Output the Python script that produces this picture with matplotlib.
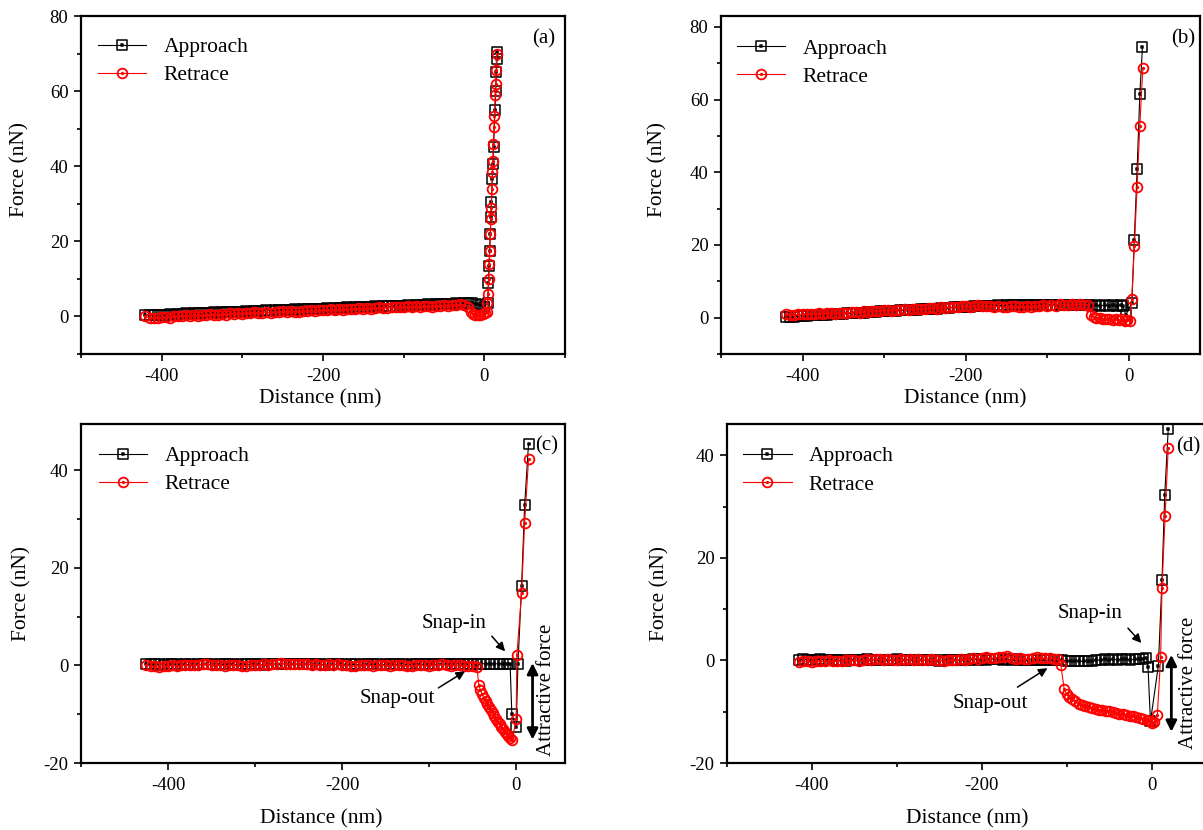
import matplotlib
matplotlib.use("Agg")
import matplotlib.pyplot as plt
from matplotlib.path import Path
from matplotlib.ticker import MultipleLocator

plt.rcParams['font.family'] = ['Liberation Serif', 'DejaVu Serif']
plt.rcParams['axes.unicode_minus'] = False

# common distance grid (nm) of the flat, non-contact part
grid = [-425, -420, -415, -410, -405, -400, -395, -390, -385, -380,
        -375, -370, -365, -360, -355, -350, -345, -340, -335, -330,
        -325, -320, -315, -310, -305, -300, -295, -290, -285, -280,
        -275, -270, -265, -260, -255, -250, -245, -240, -235, -230,
        -225, -220, -215, -210, -205, -200, -195, -190, -185, -180,
        -175, -170, -165, -160, -155, -150, -145, -140, -135, -130,
        -125, -120, -115, -110, -105, -100, -95, -90, -85, -80,
        -75, -70, -65, -60, -55, -50, -45, -40, -35, -30,
        -25, -20, -15, -10, -5]

# ---- panel (a)
a_app_flat = [0.3, 0.4, 0.3, 0.5, 0.4, 0.5, 0.6, 0.5, 0.7, 0.6,
              0.8, 0.7, 0.9, 0.8, 0.9, 1.0, 0.9, 1.1, 1.0, 1.1,
              1.2, 1.1, 1.3, 1.2, 1.3, 1.4, 1.3, 1.5, 1.4, 1.5,
              1.6, 1.5, 1.7, 1.6, 1.7, 1.8, 1.7, 1.9, 1.8, 1.9,
              2.0, 1.9, 2.1, 2.0, 2.1, 2.2, 2.1, 2.3, 2.2, 2.3,
              2.4, 2.3, 2.5, 2.4, 2.5, 2.6, 2.5, 2.7, 2.6, 2.7,
              2.8, 2.7, 2.9, 2.8, 2.9, 3.0, 2.9, 3.1, 3.0, 3.1,
              3.2, 3.1, 3.3, 3.2, 3.3, 3.4, 3.3, 3.5, 3.4, 3.5,
              3.6, 3.5, 3.4, 3.1]
a_app_tip_x = [0, 4.1, 5.1, 5.9, 6.6, 7.4, 8.2, 8.9, 10.0, 10.7, 11.5, 13.3, 14.2, 15.1, 15.7, 16.1]
a_app_tip_y = [2.6, 3.5, 9.0, 13.5, 17.5, 22.0, 26.5, 30.5, 36.5, 40.5, 45.0, 55.0, 60.0, 65.0, 68.5, 70.5]
a_ret_flat = [0.0, -0.4, -0.3, -0.5, -0.2, -0.1, -0.3, 0.2, 0.0, 0.1,
              0.3, 0.0, 0.4, 0.2, 0.5, 0.3, 0.6, 0.4, 0.3, 0.7,
              0.5, 0.8, 0.6, 0.9, 0.7, 1.0, 0.8, 1.1, 0.9, 1.0,
              1.2, 0.9, 1.3, 1.1, 1.4, 1.2, 1.5, 1.3, 1.2, 1.5,
              1.4, 1.7, 1.5, 1.8, 1.6, 1.6, 1.9, 1.7, 2.0, 1.8,
              1.9, 2.1, 1.9, 2.2, 2.0, 2.3, 2.1, 2.2, 2.4, 2.2,
              2.3, 2.5, 2.4, 2.6, 2.4, 2.7, 2.5, 2.8, 2.6, 2.7,
              2.8, 2.6, 2.9, 2.8, 3.0, 2.9, 3.1, 3.0, 3.2, 3.1]
a_ret_tip_x = [-20, -17, -14, -11, -8, -5, -2, 1, 3, 4, 5, 5.5, 6.2, 6.8, 7.5, 8.2, 8.7,
               9.4, 10.1, 10.6, 11.3, 12.1, 12.6, 13.6, 14.1, 14.6, 15.4]
a_ret_tip_y = [2.4, 1.3, 0.7, 0.4, 0.4, 0.5, 0.6, 0.8, 1.2, 3.5, 6.0, 10.0, 14.0, 17.5, 22.0, 26.0, 29.0,
               34.0, 38.5, 41.5, 46.0, 50.5, 53.5, 59.0, 62.0, 65.5, 70.0]

# ---- panel (b)
b_app_flat = [0.2, 0.3, 0.3, 0.4, 0.5, 0.5, 0.6, 0.7, 0.7, 0.8,
              0.8, 0.9, 1.0, 1.0, 1.1, 1.2, 1.2, 1.3, 1.3, 1.4,
              1.5, 1.5, 1.6, 1.7, 1.7, 1.8, 1.8, 1.9, 2.0, 2.0,
              2.1, 2.1, 2.2, 2.3, 2.3, 2.4, 2.5, 2.5, 2.6, 2.6,
              2.7, 2.8, 2.8, 2.9, 2.9, 3.0, 3.1, 3.1, 3.2, 3.2,
              3.3, 3.3, 3.4, 3.3, 3.4, 3.5, 3.4, 3.5, 3.6, 3.5,
              3.4, 3.5, 3.4, 3.5, 3.4, 3.5, 3.6, 3.5, 3.4, 3.5,
              3.4, 3.5, 3.4, 3.5, 3.4, 3.3, 3.4, 3.3, 3.4, 3.3,
              3.4, 3.3, 3.4]
b_app_tip_x = [-7, -4, 3.5, 6.5, 10.0, 13.3, 16.5]
b_app_tip_y = [3.1, 0.7, 4.1, 21.5, 41.0, 61.5, 74.5]
b_ret_flat = [0.9, 0.8, 0.7, 0.9, 1.0, 0.9, 1.1, 1.0, 1.2, 1.1,
              1.2, 1.3, 1.1, 1.3, 1.4, 1.2, 1.5, 1.6, 1.4, 1.7,
              1.6, 1.8, 1.9, 1.7, 2.0, 2.1, 1.9, 2.2, 2.1, 2.3,
              2.2, 2.4, 2.3, 2.5, 2.4, 2.6, 2.7, 2.5, 2.8, 2.7,
              2.9, 2.8, 3.0, 3.2, 3.1, 2.9, 3.2, 3.4, 3.3, 3.1,
              3.2, 3.0, 3.1, 2.9, 3.0, 3.2, 3.1, 2.9, 3.0, 3.2,
              3.0, 3.3, 3.2, 3.4, 3.3, 3.5, 3.3, 3.7, 3.6, 3.4,
              3.7, 3.5, 3.8, 3.6, 3.5]
b_ret_tip_x = [-46, -43, -40, -36, -32, -28, -24, -20, -16, -12, -8, -5, -2, 1,
               3.4, 6.6, 9.9, 13.2, 17.0]
b_ret_tip_y = [0.7, 0.3, 0.0, -0.2, -0.3, -0.5, -0.4, -0.6, -0.4, -0.7, -0.5, -0.9, -0.6, -1.0,
               5.0, 19.8, 35.9, 52.6, 68.7]

# ---- panel (c)
c_app_flat = [0.2, 0.3, 0.2, 0.2, 0.1, 0.2, 0.3, 0.2, 0.1, 0.2,
              0.2, 0.1, 0.2, 0.3, 0.2, 0.2, 0.1, 0.2, 0.2, 0.3,
              0.2, 0.1, 0.2, 0.2, 0.3, 0.2, 0.2, 0.1, 0.2, 0.3,
              0.3, 0.4, 0.3, 0.2, 0.3, 0.3, 0.2, 0.2, 0.3, 0.2,
              0.2, 0.1, 0.2, 0.2, 0.3, 0.2, 0.1, 0.2, 0.2, 0.1,
              0.2, 0.3, 0.2, 0.2, 0.1, 0.2, 0.2, 0.3, 0.2, 0.2,
              0.1, 0.2, 0.2, 0.3, 0.2, 0.2, 0.3, 0.2, 0.3, 0.3,
              0.3, 0.4, 0.3, 0.3, 0.4, 0.3, 0.3, 0.4, 0.3, 0.4,
              0.3, 0.4, 0.3, 0.4]
c_app_tip_x = [-7, -5, 0, 2, 6.2, 9.7, 14.2]
c_app_tip_y = [0.35, -10.0, -12.6, 0.2, 16.3, 32.8, 45.5]
c_ret_flat = [0.0, -0.1, -0.2, -0.4, -0.2, -0.1, 0.0, -0.1, 0.0, 0.1,
              0.0, 0.1, 0.0, 0.3, 0.2, 0.1, 0.0, 0.1, -0.1, 0.0,
              0.1, 0.0, -0.1, -0.2, 0.0, 0.1, 0.0, 0.2, 0.1, 0.2,
              0.3, 0.5, 0.3, 0.2, 0.4, 0.3, 0.4, 0.2, 0.1, 0.2,
              0.1, 0.0, 0.2, 0.0, 0.4, 0.1, 0.0, -0.1, -0.2, 0.0,
              0.1, 0.0, -0.1, 0.0, 0.1, 0.0, -0.1, 0.0, 0.1, 0.0,
              -0.1, -0.2, 0.0, 0.1, 0.0, -0.1, 0.0, 0.1, 0.2, 0.0,
              -0.1, 0.0, 0.1, -0.1, -0.2, -0.1, -0.4]
c_ret_tip_x = [-42.9, -41, -39, -37, -35, -33, -31, -29, -27, -25, -23, -21, -19, -17,
               -15, -13, -11, -9, -7, -4.5, 0, 0.8, 6.2, 9.7, 14.2]
c_ret_tip_y = [-4.1, -5.0, -5.9, -6.7, -7.3, -8.0, -8.6, -9.2, -9.8, -10.4, -11.0, -11.6, -12.1, -12.6,
               -13.1, -13.6, -14.0, -14.4, -14.8, -15.2, -11.0, 2.2, 14.9, 29.2, 42.3]

# ---- panel (d)
d_app_flat = [0.1, 0.2, 0.1, 0.0, 0.1, 0.2, 0.1, 0.1, 0.0, 0.1,
              0.0, -0.1, 0.0, 0.1, 0.0, 0.1, 0.2, 0.1, 0.1, 0.0,
              0.1, 0.0, 0.1, 0.2, 0.1, 0.0, 0.1, 0.1, 0.0, 0.1,
              0.0, 0.1, 0.0, -0.1, 0.0, 0.1, 0.0, 0.1, 0.0, 0.1,
              0.1, 0.2, 0.1, 0.2, 0.1, 0.2, 0.3, 0.2, 0.1, 0.2,
              0.1, 0.2, 0.1, 0.0, 0.1, 0.1, 0.0, 0.1, 0.0, 0.1,
              0.0, 0.1, 0.0, -0.1, -0.2, -0.1, -0.2, -0.1, -0.2, -0.1,
              0.0, 0.1, 0.2, 0.1, 0.2, 0.1, 0.2, 0.2, 0.1, 0.2,
              0.2, 0.3]
d_app_tip_x = [-6.2, -4.3, -1.4, 7.9, 12.2, 15.4, 19.5]
d_app_tip_y = [0.5, -1.2, -11.9, -1.0, 15.7, 32.3, 45.1]
d_ret_flat = [-0.3, -0.2, -0.1, -0.3, -0.2, -0.1, -0.2, 0.0, -0.1, -0.2,
              -0.1, 0.0, 0.1, 0.0, -0.1, 0.1, 0.2, 0.1, 0.3, 0.2,
              0.1, 0.2, 0.1, 0.0, 0.2, 0.1, 0.3, 0.1, 0.2, 0.0,
              0.1, 0.2, 0.0, 0.1, -0.1, 0.0, 0.1, 0.0, 0.2, 0.1,
              0.3, 0.4, 0.3, 0.5, 0.6, 0.4, 0.5, 0.7, 0.6, 0.8,
              0.5, 0.3, 0.4, 0.2, 0.3, 0.5, 0.6, 0.4, 0.5, 0.4,
              0.3, 0.2]
d_ret_tip_x = [-107, -103, -100, -97, -94, -90, -86, -82, -78, -74, -70, -66, -62, -58,
               -54, -50, -46, -42, -38, -34, -30, -26, -22, -18, -14, -10, -6, -2, 1, 3,
               6.7, 10.6, 12.2, 15.8, 19.5]
d_ret_tip_y = [-0.8, -5.6, -6.5, -7.1, -7.6, -8.0, -8.4, -8.7, -8.9, -9.1, -9.3, -9.5, -9.6, -9.7,
               -9.8, -9.9, -10.1, -10.3, -10.4, -10.5, -10.6, -10.8, -10.9, -11.0, -11.2, -11.4,
               -11.6, -11.9, -12.2, -12.0, -10.6, 0.7, 14.2, 28.1, 41.4]

# markers: open square / open circle with a dot in the middle
_sq = Path([(-1, -1), (1, -1), (1, 1), (-1, 1), (-1, -1)],
           [Path.MOVETO, Path.LINETO, Path.LINETO, Path.LINETO, Path.CLOSEPOLY])
_dot_sq = Path([(-0.12, -0.12), (0.12, -0.12), (0.12, 0.12), (-0.12, 0.12), (-0.12, -0.12)],
               [Path.MOVETO, Path.LINETO, Path.LINETO, Path.LINETO, Path.CLOSEPOLY])
sq_marker = Path.make_compound_path(_sq, _dot_sq)
_c = Path.unit_circle()
circ_marker = Path.make_compound_path(_c, Path(_c.vertices * 0.15, _c.codes))

fig = plt.figure(figsize=(12.03, 8.30), dpi=100)


def panel(pos, xlim, ylim, ymajor, app, ret, tag, tag_xy, leg_xy, ylab_xy, xlab_xy):
    ax = fig.add_axes(pos)
    ax.plot(app[0], app[1], color='black', lw=0.8, marker=sq_marker, ms=6.5,
            mfc='none', mec='black', mew=1.1, label='Approach')
    ax.plot(ret[0], ret[1], color='red', lw=0.8, marker=circ_marker, ms=7,
            mfc='none', mec='red', mew=1.3, label='Retrace')
    ax.set_xlim(*xlim)
    ax.set_ylim(*ylim)
    ax.xaxis.set_major_locator(MultipleLocator(200))
    ax.xaxis.set_minor_locator(MultipleLocator(100))
    ax.yaxis.set_major_locator(MultipleLocator(ymajor))
    ax.yaxis.set_minor_locator(MultipleLocator(ymajor / 2))
    ax.tick_params(which='both', direction='out', top=False, right=False,
                   labelsize=13.5, width=1.2)
    ax.tick_params(which='major', length=5)
    ax.tick_params(which='minor', length=3)
    ax.tick_params(axis='x', which='major', pad=5)
    ax.tick_params(axis='y', which='major', pad=4)
    for s in ax.spines.values():
        s.set_linewidth(1.6)
    ax.set_xlabel('Distance (nm)', fontsize=15.5)
    ax.set_ylabel('Force (nN)', fontsize=15.5)
    ax.yaxis.set_label_coords(*ylab_xy)
    ax.xaxis.set_label_coords(*xlab_xy)
    ax.text(tag_xy[0], tag_xy[1], tag, transform=ax.transAxes, fontsize=15,
            ha='right', va='center')
    ax.legend(loc='upper left', bbox_to_anchor=leg_xy, frameon=False, fontsize=15.5,
              handlelength=2.25, handletextpad=0.8, labelspacing=0.38,
              borderpad=0, borderaxespad=0)
    return ax


ax_a = panel([0.0673, 0.5735, 0.4023, 0.4072], (-500, 100), (-10, 80), 20,
             (grid[1:85] + a_app_tip_x, a_app_flat + a_app_tip_y),
             (grid[1:81] + a_ret_tip_x, a_ret_flat + a_ret_tip_y),
             '(a)', (0.98, 0.932), (0.035, 0.938), (-0.107, 0.547), (0.494, -0.104))

ax_b = panel([0.5993, 0.5735, 0.3982, 0.4072], (-500, 87), (-10, 83), 20,
             (grid[1:84] + b_app_tip_x, b_app_flat + b_app_tip_y),
             (grid[1:76] + b_ret_tip_x, b_ret_flat + b_ret_tip_y),
             '(b)', (0.99, 0.933), (0.033, 0.933), (-0.111, 0.547), (0.511, -0.104))

ax_c = panel([0.0673, 0.0807, 0.4023, 0.4084], (-500, 56), (-20, 49.5), 20,
             (grid[0:84] + c_app_tip_x, c_app_flat + c_app_tip_y),
             (grid[0:77] + c_ret_tip_x, c_ret_flat + c_ret_tip_y),
             '(c)', (0.985, 0.935), (0.037, 0.935), (-0.103, 0.5), (0.497, -0.137))

ax_d = panel([0.6043, 0.0807, 0.3982, 0.4084], (-500, 64), (-20, 46.1), 20,
             (grid[2:84] + d_app_tip_x, d_app_flat + d_app_tip_y),
             (grid[2:64] + d_ret_tip_x, d_ret_flat + d_ret_tip_y),
             '(d)', (0.988, 0.934), (0.034, 0.934), (-0.119, 0.5), (0.501, -0.137))

arrow = dict(arrowstyle='-|>', color='black', lw=1.1, mutation_scale=13, shrinkA=0, shrinkB=0)
darrow = dict(arrowstyle='<|-|>', color='black', lw=2.0, mutation_scale=16, shrinkA=0, shrinkB=0)

# (c) annotations
ax_c.text(-71, 8.6, 'Snap-in', fontsize=15, ha='center', va='center')
ax_c.annotate('', xy=(-12.7, 2.9), xytext=(-28, 6.0), arrowprops=arrow)
ax_c.text(-136, -6.8, 'Snap-out', fontsize=15, ha='center', va='center')
ax_c.annotate('', xy=(-58.8, -1.2), xytext=(-89.4, -4.6), arrowprops=arrow)
ax_c.annotate('', xy=(18.8, 0.5), xytext=(18.8, -15.2), arrowprops=darrow)
ax_c.text(35, -5.1, 'Attractive force', fontsize=15, rotation=90, ha='center', va='center')

# (d) annotations
ax_d.text(-72.5, 9.1, 'Snap-in', fontsize=15, ha='center', va='center')
ax_d.annotate('', xy=(-12.1, 3.4), xytext=(-27.9, 6.3), arrowprops=arrow)
ax_d.text(-190, -8.3, 'Snap-out', fontsize=15, ha='center', va='center')
ax_d.annotate('', xy=(-122.7, -1.5), xytext=(-158, -5.2), arrowprops=arrow)
ax_d.annotate('', xy=(23.2, 1.1), xytext=(23.2, -13.9), arrowprops=darrow)
ax_d.text(43.9, -4.3, 'Attractive force', fontsize=15, rotation=90, ha='center', va='center')

fig.savefig('out.png', dpi=100, facecolor='white')
